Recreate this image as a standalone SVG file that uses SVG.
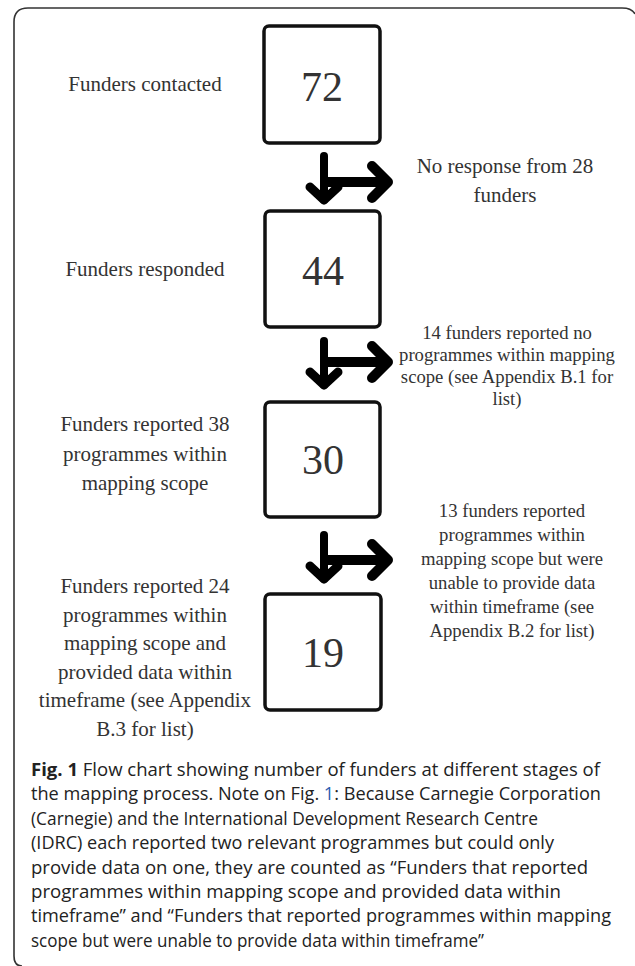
<svg xmlns="http://www.w3.org/2000/svg" width="635" height="966" viewBox="0 0 635 966">
<style>
.frame{fill:none;stroke:#333;stroke-width:1.6}
.box{fill:#fff;stroke:#111;stroke-width:3.5}
.num{font-family:"Liberation Serif",serif;font-size:42px;fill:#333;text-anchor:middle}
.lbl{font-family:"Liberation Serif",serif;font-size:21px;fill:#333;text-anchor:middle}
.sm{font-family:"Liberation Serif",serif;font-size:18.7px;fill:#333;text-anchor:middle}
.cap{font-family:"Open Sans","Noto Sans",sans-serif;font-size:17.4px;fill:#222}
.arr{fill:none;stroke:#000;stroke-linecap:round;stroke-linejoin:round}
</style>
<rect width="635" height="966" fill="#fff"/>
<path class="frame" d="M22 966 Q14 966 14 956 V22 Q14 8 28 8 H622 Q632 8 635 14"/>

<g id="connectors">
  <g transform="translate(324,156)">
    <path class="arr" stroke-width="8" d="M0 0 V44"/>
    <path class="arr" stroke-width="9" d="M-14 31 L0 44 L14 31"/>
    <path class="arr" stroke-width="10" d="M2 26 H62"/>
    <path class="arr" stroke-width="10" d="M48 10 L64 26 L48 42"/>
  </g>
  <g transform="translate(324,341)">
    <path class="arr" stroke-width="8" d="M0 0 V44"/>
    <path class="arr" stroke-width="9" d="M-14 31 L0 44 L14 31"/>
    <path class="arr" stroke-width="10" d="M2 21 H62"/>
    <path class="arr" stroke-width="10" d="M48 5 L64 21 L48 37"/>
  </g>
  <g transform="translate(324,535)">
    <path class="arr" stroke-width="8" d="M0 0 V44"/>
    <path class="arr" stroke-width="9" d="M-14 31 L0 44 L14 31"/>
    <path class="arr" stroke-width="10" d="M2 25 H62"/>
    <path class="arr" stroke-width="10" d="M48 9 L64 25 L48 41"/>
  </g>
</g>

<g id="node-72">
  <rect class="box" x="264" y="26" width="116" height="117" rx="5"/>
  <text class="num" x="322" y="101">72</text>
</g>
<g id="node-44">
  <rect class="box" x="265" y="211" width="115" height="116" rx="5"/>
  <text class="num" x="323" y="285">44</text>
</g>
<g id="node-30">
  <rect class="box" x="265" y="402" width="115" height="115" rx="5"/>
  <text class="num" x="323" y="474">30</text>
</g>
<g id="node-19">
  <rect class="box" x="265" y="594" width="116" height="116" rx="5"/>
  <text class="num" x="323" y="667">19</text>
</g>

<g id="label-contacted">
  <text class="lbl" x="145" y="91">Funders contacted</text>
</g>
<g id="label-responded">
  <text class="lbl" x="145" y="276">Funders responded</text>
</g>
<g id="label-38">
  <text class="lbl" x="145" y="431">Funders reported 38</text>
  <text class="lbl" x="145" y="461">programmes within</text>
  <text class="lbl" x="145" y="490">mapping scope</text>
</g>
<g id="label-24">
  <text class="lbl" x="145" y="593">Funders reported 24</text>
  <text class="lbl" x="145" y="622">programmes within</text>
  <text class="lbl" x="145" y="650">mapping scope and</text>
  <text class="lbl" x="145" y="679">provided data within</text>
  <text class="lbl" x="145" y="707">timeframe (see Appendix</text>
  <text class="lbl" x="145" y="736">B.3 for list)</text>
</g>

<g id="label-no-response">
  <text class="lbl" x="505" y="173">No response from 28</text>
  <text class="lbl" x="505" y="202">funders</text>
</g>
<g id="label-14">
  <text class="sm" x="507" y="339">14 funders reported no</text>
  <text class="sm" x="507" y="361">programmes within mapping</text>
  <text class="sm" x="507" y="383">scope (see Appendix B.1 for</text>
  <text class="sm" x="507" y="405">list)</text>
</g>
<g id="label-13">
  <text class="sm" x="512" y="517">13 funders reported</text>
  <text class="sm" x="512" y="541">programmes within</text>
  <text class="sm" x="512" y="565">mapping scope but were</text>
  <text class="sm" x="512" y="589">unable to provide data</text>
  <text class="sm" x="512" y="613">within timeframe (see</text>
  <text class="sm" x="512" y="637">Appendix B.2 for list)</text>
</g>

<g id="caption">
  <text class="cap" x="31" y="776" textLength="569" lengthAdjust="spacingAndGlyphs"><tspan font-weight="bold">Fig. 1</tspan> Flow chart showing number of funders at different stages of</text>
  <text class="cap" x="31" y="800" textLength="570" lengthAdjust="spacingAndGlyphs">the mapping process. Note on Fig. <tspan fill="#2a5db0">1</tspan>: Because Carnegie Corporation</text>
  <text class="cap" x="31" y="825" textLength="507" lengthAdjust="spacingAndGlyphs">(Carnegie) and the International Development Research Centre</text>
  <text class="cap" x="31" y="849" textLength="523" lengthAdjust="spacingAndGlyphs">(IDRC) each reported two relevant programmes but could only</text>
  <text class="cap" x="31" y="874" textLength="557" lengthAdjust="spacingAndGlyphs">provide data on one, they are counted as “Funders that reported</text>
  <text class="cap" x="31" y="898" textLength="530" lengthAdjust="spacingAndGlyphs">programmes within mapping scope and provided data within</text>
  <text class="cap" x="31" y="922" textLength="580" lengthAdjust="spacingAndGlyphs">timeframe” and “Funders that reported programmes within mapping</text>
  <text class="cap" x="31" y="947" textLength="453" lengthAdjust="spacingAndGlyphs">scope but were unable to provide data within timeframe”</text>
</g>
</svg>
